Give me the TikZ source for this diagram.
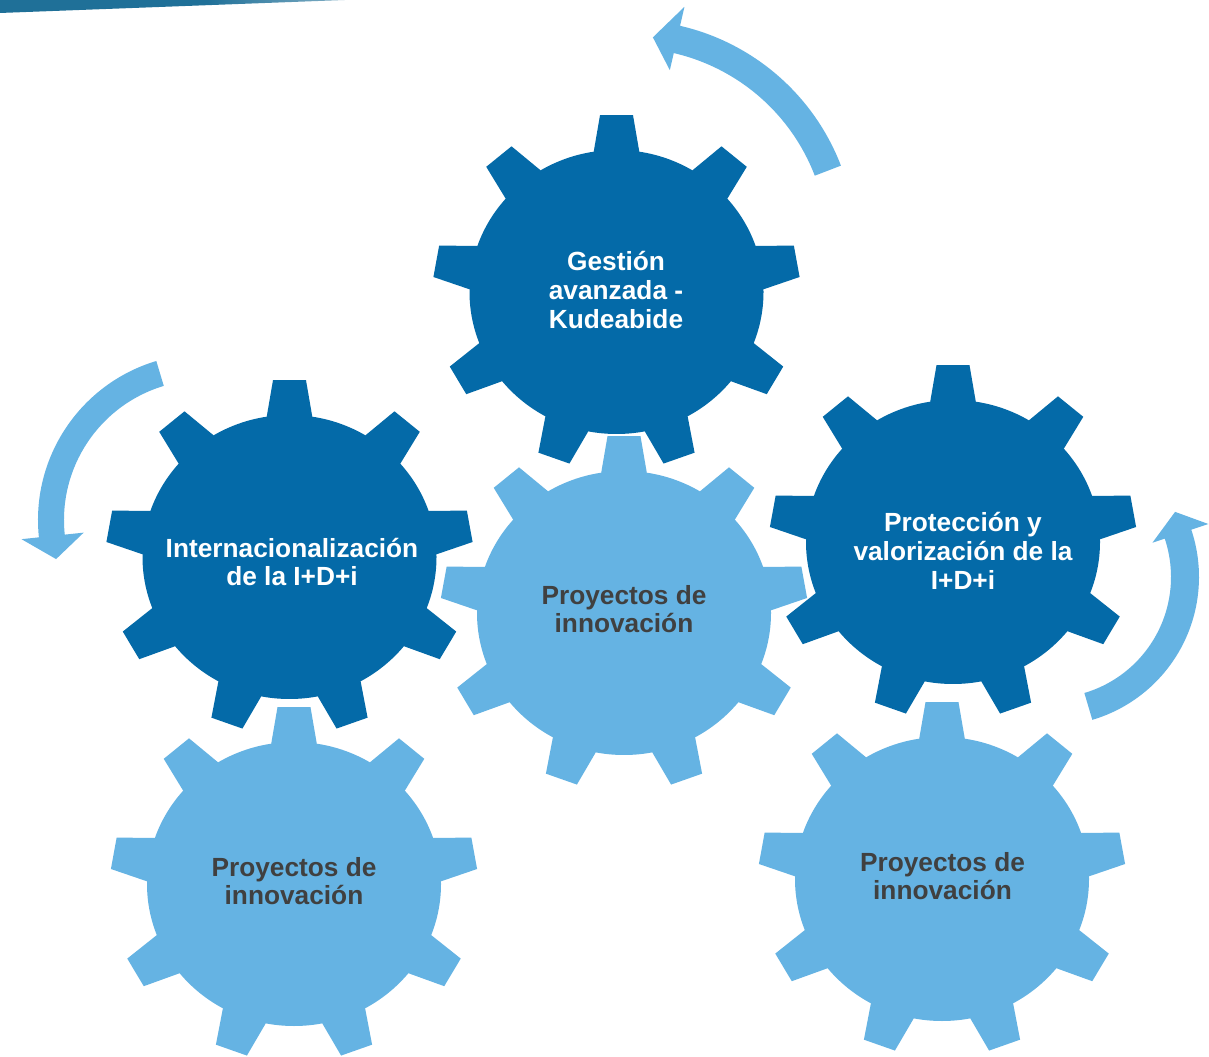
\documentclass[tikz,border=0pt]{standalone}
\usepackage{fontspec}
\setmainfont{Liberation Sans}
\usetikzlibrary{calc}
\definecolor{gdark}{RGB}{4,106,168}
\definecolor{glight}{RGB}{101,179,227}
\definecolor{tgray}{RGB}{64,64,64}
\definecolor{barblue}{RGB}{31,112,152}
\pgfdeclarehorizontalshading{barfade}{100bp}{color(0bp)=(barblue); color(55bp)=(barblue); color(100bp)=(white)}
\tikzset{
  pics/gear/.style={code={
    \begin{scope}[yscale=0.966]
      \fill[#1] (0,0) circle[radius=147];
      \foreach \a in {90,130,...,410}{
        \fill[#1,rotate=\a] (128,-25) -- (147,-22.5) -- (183,-16.5) -- (183,16.5) -- (147,22.5) -- (128,25) -- cycle;}
    \end{scope}}},
  lbl/.style={font=\bfseries\fontsize{19.7}{21.5}\selectfont, align=center, inner sep=0pt},
  ondark/.style={lbl,text=white},
  onlight/.style={lbl,text=tgray},
  arrowfill/.style={fill=glight}
}
\begin{document}
\begin{tikzpicture}[x=0.75pt,y=0.75pt]
\useasboundingbox (0,0) rectangle (1209,1056);
\fill[white] (0,0) rectangle (1209,1056);
% top-left bar
\shade[shading=barfade] (0,1056) -- (345,1056) -- (0,1043) -- cycle;
% light gears
\pic at (624,443) {gear=glight};
\pic at (294,172) {gear=glight};
\pic at (942,177) {gear=glight};
% dark gears
\pic at (616.5,764) {gear=gdark};
\pic at (289.5,499) {gear=gdark};
\pic at (953,514) {gear=gdark};
% arrows
\coordinate (ca) at (629,809);
\fill[arrowfill] ($(ca)+(21:199)$) arc[start angle=21, end angle=77, radius=199]
  -- ($(ca)+(77:181.5)$) -- ($(ca)+(83.5:211)$) -- ($(ca)+(77:246.5)$)
  -- ($(ca)+(77:227)$) arc[start angle=77, end angle=21, radius=227] -- cycle;
\coordinate (cb) at (204,536);
\fill[arrowfill] ($(cb)+(106.7:140)$) arc[start angle=106.7, end angle=186, radius=140]
  -- ($(cb)+(186:121)$) -- ($(cb)+(194.8:153)$) -- ($(cb)+(186:183.5)$)
  -- ($(cb)+(186:166)$) arc[start angle=186, end angle=106.7, radius=166] -- cycle;
\coordinate (cc) at (1050,479);
\fill[arrowfill] ($(cc)+(-73.5:121)$) arc[start angle=-73.5, end angle=18.5, radius=121]
  -- ($(cc)+(18.5:108)$) -- ($(cc)+(27.5:141)$) -- ($(cc)+(18.5:167)$)
  -- ($(cc)+(18.5:149)$) arc[start angle=18.5, end angle=-73.5, radius=149] -- cycle;
% labels
\node[ondark] (g1) at (616,766) {Gestión\\avanzada -\\Kudeabide};
\node[ondark] (g3) at (292,494) {Internacionalización\\de la I+D+i};
\node[ondark] (g4) at (963,505) {Protección y\\valorización de la\\I+D+i};
\node[onlight] (g2) at (624,447) {Proyectos de\\innovación};
\node[onlight] (g5) at (294,175) {Proyectos de\\innovación};
\node[onlight] (g6) at (942.5,180) {Proyectos de\\innovación};
\end{tikzpicture}
\end{document}
